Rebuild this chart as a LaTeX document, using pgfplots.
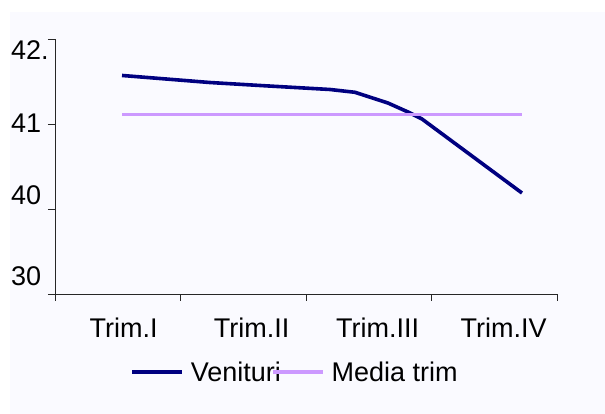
\documentclass[border=0pt]{standalone}
\usepackage{pgfplots}
\pgfplotsset{compat=1.18}
\usepackage{fontspec}
\setmainfont{Liberation Sans}
\definecolor{bgcol}{HTML}{FAFAFF}
\definecolor{navyc}{HTML}{000080}
\definecolor{lilac}{HTML}{CC99FF}
\begin{document}
\begin{tikzpicture}
\useasboundingbox (-55pt,-120pt) rectangle (550pt,294pt);
\fill[bgcol] (-45pt,-120pt) rectangle (550pt,282pt);
\begin{axis}[
  at={(0pt,0pt)}, anchor=south west,
  scale only axis, width=502pt, height=255pt,
  xmin=0, xmax=4, ymin=39, ymax=42,
  axis x line=bottom, axis y line=left,
  axis line style={-, line width=0.9pt, black!85},
  tick align=outside, major tick length=7pt,
  tick style={line width=0.9pt, black!85},
  xtick={0,1,2,3,4}, xticklabels={},
  ytick={39,40,41,42}, yticklabels={},
  extra x ticks={0.546,1.566,2.570,3.574},
  extra x tick labels={Trim.I,Trim.II,Trim.III,Trim.IV},
  extra x tick style={major tick length=0pt, tick label style={anchor=north, inner sep=0pt, yshift=-24pt}},
  extra y ticks={39.206,40.165,41.012,41.871},
  extra y tick labels={30,40,41,42.},
  extra y tick style={major tick length=0pt, tick label style={anchor=west, inner sep=0pt, xshift=-44pt}},
  /pgf/number format/assume math mode=true,
  tick label style={font=\fontsize{27}{31}\selectfont},
  legend columns=2,
  legend style={at={(0.478,-0.306)}, anchor=center, draw=none, fill=none,
    font=\fontsize{27}{31}\selectfont, inner sep=0pt,
    /tikz/every even column/.append style={column sep=-12pt}},
  legend image code/.code={\draw[#1] (0pt,0pt) -- (50pt,0pt); \path (55pt,0pt);},
  clip=false,
]
\addplot[navyc, line width=3.6pt, line join=round] coordinates {
(0.534,41.571) (1.235,41.488) (1.657,41.451) (2.191,41.406) (2.390,41.373)
(2.653,41.247) (2.813,41.141) (2.924,41.059) (3.721,40.188)};
\addlegendentry{Venituri}
\addplot[lilac, line width=3.6pt] coordinates {(0.534,41.112) (3.721,41.112)};
\addlegendentry{Media trim}
\end{axis}
\end{tikzpicture}
\end{document}
